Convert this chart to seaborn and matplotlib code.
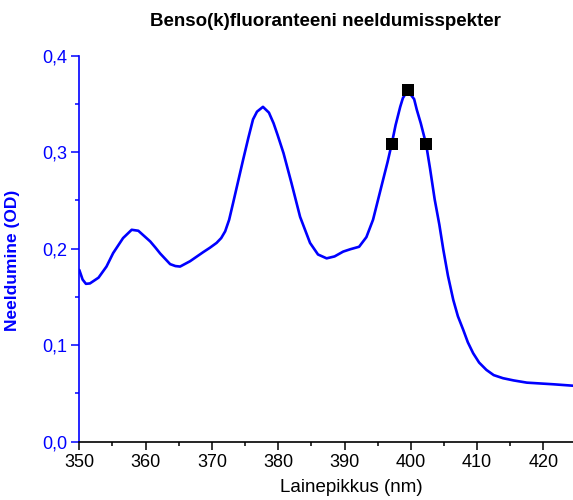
import matplotlib
matplotlib.use("Agg")
import matplotlib.pyplot as plt
import seaborn as sns
import pandas as pd
from matplotlib.ticker import MultipleLocator, FuncFormatter

wavelength = [350.0, 350.5, 351.0, 351.6, 352.9, 354.1, 355.1, 356.6, 357.9, 358.9,
              360.7, 361.5, 362.2, 363.7, 364.5, 365.2, 366.7, 368.7, 369.7, 370.7,
              371.4, 372.0, 372.6, 373.2, 374.7, 375.5, 376.2, 376.8, 377.7, 378.6,
              379.3, 379.9, 380.8, 382.0, 383.3, 384.8, 386.0, 387.3, 388.5, 389.8,
              390.9, 392.2, 393.3, 394.3, 395.8, 396.5, 397.1, 397.7, 398.4, 398.8,
              399.5, 400.5, 400.9, 401.5, 402.3, 402.9, 403.6, 404.3, 404.9, 405.6,
              406.4, 407.1, 407.9, 408.6, 409.4, 410.3, 411.4, 412.5, 413.9, 415.5,
              417.5, 421.5, 424.5]
absorbance = [0.178, 0.168, 0.1636, 0.164, 0.170, 0.1815, 0.1954, 0.211, 0.2196, 0.2186,
              0.2075, 0.201, 0.195, 0.184, 0.182, 0.1815, 0.187, 0.1965, 0.201, 0.206,
              0.211, 0.218, 0.230, 0.2475, 0.292, 0.315, 0.334, 0.342, 0.347, 0.341,
              0.330, 0.318, 0.299, 0.268, 0.233, 0.206, 0.194, 0.190, 0.192, 0.197,
              0.1995, 0.202, 0.212, 0.230, 0.271, 0.290, 0.308, 0.328, 0.347, 0.356,
              0.364, 0.355, 0.344, 0.330, 0.3085, 0.283, 0.251, 0.225, 0.199, 0.172,
              0.147, 0.130, 0.116, 0.103, 0.0917, 0.082, 0.0744, 0.069, 0.0658, 0.0635,
              0.0612, 0.0595, 0.058]
marker_wl = [397.1, 399.5, 402.3]
marker_abs = [0.308, 0.364, 0.3085]

title = "Benso(k)fluoranteeni neeldumisspekter"
xlabel = "Lainepikkus (nm)"
ylabel = "Neeldumine (OD)"

sns.set_style("ticks")
plt.rcParams['font.family'] = ['Liberation Sans', 'DejaVu Sans']

blue = "#0000FF"
fig = plt.figure(figsize=(5.73, 5.0), dpi=100)
ax = fig.add_axes([0.1384, 0.1166, 0.8616, 0.772])

df = pd.DataFrame({"wl": wavelength, "a": absorbance})
mdf = pd.DataFrame({"wl": marker_wl, "a": marker_abs})
sns.lineplot(data=df, x="wl", y="a", ax=ax, color=blue, linewidth=1.9, sort=False)
sns.scatterplot(data=mdf, x="wl", y="a", ax=ax, marker="s", color="black", s=70,
                edgecolor="black", linewidth=0, zorder=5)

ax.set_xlim(350, 424.46)
ax.set_ylim(0, 0.4)
ax.xaxis.set_major_locator(MultipleLocator(10))
ax.xaxis.set_minor_locator(MultipleLocator(5))
ax.yaxis.set_major_locator(MultipleLocator(0.1))
ax.yaxis.set_minor_locator(MultipleLocator(0.05))
ax.yaxis.set_major_formatter(FuncFormatter(lambda v, p: f"{v:.1f}".replace(".", ",")))

for s in ["top", "right"]:
    ax.spines[s].set_visible(False)
ax.spines["left"].set_color(blue)
ax.spines["bottom"].set_color("black")
ax.spines["left"].set_linewidth(1.2)
ax.spines["bottom"].set_linewidth(1.2)

ax.tick_params(axis="x", which="major", direction="out", length=5.5, width=1.1,
               colors="black", labelsize=13, pad=3)
ax.tick_params(axis="x", which="minor", direction="out", length=3, width=1.1, colors="black")
ax.tick_params(axis="y", which="major", direction="out", length=5.5, width=1.1,
               colors=blue, labelsize=13, pad=3)
ax.tick_params(axis="y", which="minor", direction="out", length=3, width=1.1, colors=blue)

ax.set_xlabel(xlabel, fontsize=13.5, color="black")
ax.xaxis.set_label_coords(0.551, -0.097)
ax.set_ylabel(ylabel, fontsize=12.5, fontweight="bold", color=blue)
ax.yaxis.set_label_coords(-0.121, 0.4707)

fig.text(325.5 / 573, 1 - 21 / 500, title, ha="center", va="center",
         fontsize=13.5, fontweight="bold", color="black")

fig.savefig("out.png", dpi=100)
